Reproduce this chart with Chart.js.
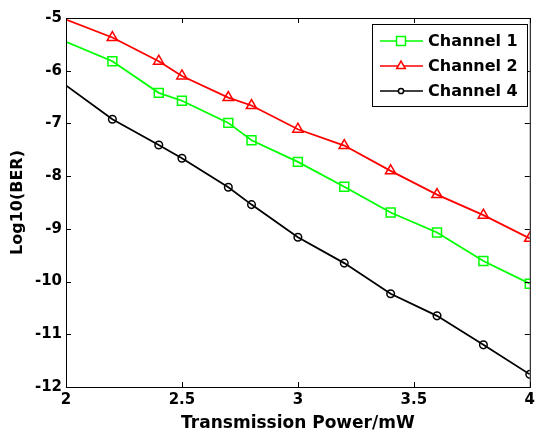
<!DOCTYPE html>
<html>
<head>
<meta charset="utf-8">
<script src="https://cdn.jsdelivr.net/npm/chart.js@4/dist/chart.umd.min.js"></script>
<style>
  html, body { margin: 0; padding: 0; background: #fff; }
  #wrap { width: 539px; height: 434px; }
</style>
</head>
<body>
<div id="wrap"><canvas id="chart" width="539" height="434"></canvas></div>
<script>
const power = [2, 2.2, 2.4, 2.5, 2.7, 2.8, 3, 3.2, 3.4, 3.6, 3.8, 4];
const channel1 = [-5.45, -5.82, -6.42, -6.57, -6.99, -7.32, -7.73, -8.20, -8.69, -9.07, -9.61, -10.04];
const channel2 = [-5.03, -5.37, -5.82, -6.10, -6.51, -6.66, -7.11, -7.42, -7.90, -8.35, -8.74, -9.18];
const channel4 = [-6.28, -6.92, -7.41, -7.66, -8.21, -8.54, -9.16, -9.65, -10.23, -10.65, -11.20, -11.76];
const xTicks = [2, 2.5, 3, 3.5, 4];
const yTicks = [-5, -6, -7, -8, -9, -10, -11, -12];

const FONT = "'DejaVu Sans', sans-serif";

function pts(ys) {
  return power.map((x, i) => ({ x: x, y: ys[i] }));
}
// no marker at the first point, like the original
const radii = r => power.map((x, i) => (i === 0 ? 0 : r));

// MATLAB-style box with inward ticks and legend inside the axes
const matlabFrame = {
  id: "matlabFrame",
  afterDatasetsDraw(chart) {
    const { ctx, chartArea: a, scales } = chart;
    ctx.save();
    ctx.strokeStyle = "#000";
    ctx.lineWidth = 1;
    ctx.strokeRect(a.left + 0.5, a.top + 0.5, a.right - a.left, a.bottom - a.top);
    ctx.beginPath();
    xTicks.forEach(v => {
      const px = Math.round(scales.x.getPixelForValue(v)) + 0.5;
      ctx.moveTo(px, a.bottom); ctx.lineTo(px, a.bottom - 5);
      ctx.moveTo(px, a.top); ctx.lineTo(px, a.top + 5);
    });
    yTicks.forEach(v => {
      const py = Math.round(scales.y.getPixelForValue(v)) + 0.5;
      ctx.moveTo(a.left, py); ctx.lineTo(a.left + 5, py);
      ctx.moveTo(a.right, py); ctx.lineTo(a.right - 5, py);
    });
    ctx.stroke();

    // legend
    const bx = 372, by = 24, bw = 155, bh = 82;
    ctx.fillStyle = "#fff";
    ctx.fillRect(bx, by, bw, bh);
    ctx.strokeRect(bx + 0.5, by + 0.5, bw, bh);
    ctx.textBaseline = "middle";
    chart.data.datasets.forEach((ds, i) => {
      const y = by + 17 + i * 25;
      ctx.strokeStyle = ds.borderColor;
      ctx.lineWidth = 1.5;
      ctx.beginPath();
      ctx.moveTo(bx + 8, y); ctx.lineTo(bx + 51, y);
      ctx.stroke();
      ctx.fillStyle = "#fff";
      Chart.helpers.drawPoint(ctx, {
        pointStyle: ds.pointStyle,
        radius: ds.legendRadius,
        borderWidth: 1.5
      }, bx + 29, y);
      ctx.fillStyle = "#000";
      ctx.font = "bold 16px " + FONT;
      ctx.fillText(ds.label, bx + 56, y + 1);
    });
    ctx.restore();
  }
};

new Chart(document.getElementById("chart").getContext("2d"), {
  type: "line",
  data: {
    datasets: [
      {
        label: "Channel 1",
        data: pts(channel1),
        borderColor: "#00ff00",
        backgroundColor: "rgba(0,0,0,0)",
        pointStyle: "rect",
        pointRadius: radii(6.3),
        legendRadius: 6.3,
        pointBorderWidth: 1.5,
        borderWidth: 1.8
      },
      {
        label: "Channel 2",
        data: pts(channel2),
        borderColor: "#ff0000",
        backgroundColor: "rgba(0,0,0,0)",
        pointStyle: "triangle",
        pointRadius: radii(6),
        legendRadius: 5,
        pointBorderWidth: 1.5,
        borderWidth: 1.8
      },
      {
        label: "Channel 4",
        data: pts(channel4),
        borderColor: "#000000",
        backgroundColor: "rgba(0,0,0,0)",
        pointStyle: "circle",
        pointRadius: radii(3.8),
        legendRadius: 2.6,
        pointBorderWidth: 1.5,
        borderWidth: 1.8
      }
    ]
  },
  options: {
    responsive: false,
    animation: false,
    layout: { padding: { left: 0, right: 6, top: 18, bottom: 0 } },
    plugins: {
      legend: { display: false },
      tooltip: { enabled: false }
    },
    elements: { line: { tension: 0 } },
    scales: {
      x: {
        type: "linear",
        min: 2,
        max: 4,
        afterBuildTicks: s => { s.ticks = xTicks.map(v => ({ value: v })); },
        afterFit: s => { s.height = 47; },
        grid: { display: false, drawTicks: false },
        border: { display: false },
        ticks: {
          color: "#000",
          padding: 4,
          font: { family: FONT, size: 15, weight: "bold" },
          callback: v => String(v)
        },
        title: {
          display: true,
          text: "Transmission Power/mW",
          color: "#000",
          padding: { top: 2, bottom: 0 },
          font: { family: FONT, size: 17, weight: "bold" }
        }
      },
      y: {
        type: "linear",
        min: -12,
        max: -5,
        afterBuildTicks: s => { s.ticks = yTicks.map(v => ({ value: v })); },
        afterFit: s => { s.width = 66; },
        grid: { display: false, drawTicks: false },
        border: { display: false },
        ticks: {
          color: "#000",
          padding: 4,
          font: { family: FONT, size: 15, weight: "bold" },
          callback: v => String(v)
        },
        title: {
          display: true,
          text: "Log10(BER)",
          color: "#000",
          padding: { top: 8, bottom: 0 },
          font: { family: FONT, size: 16, weight: "bold" }
        }
      }
    }
  },
  plugins: [matlabFrame]
});
</script>
</body>
</html>
